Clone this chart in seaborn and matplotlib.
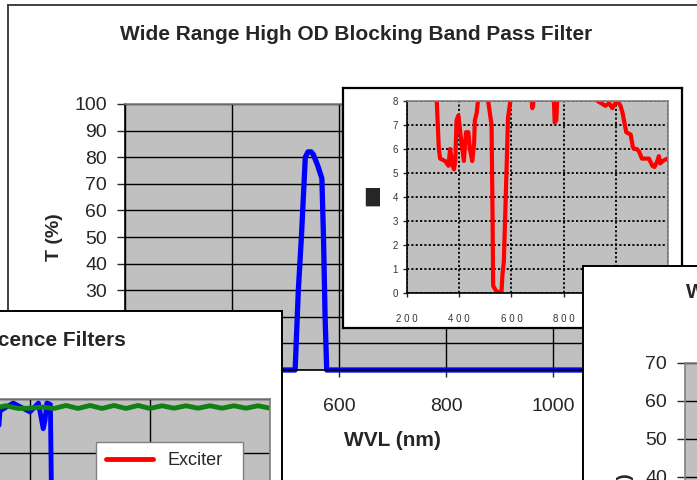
import matplotlib
matplotlib.use("Agg")
import matplotlib.pyplot as plt
import seaborn as sns

W, H = 697, 480

# main chart: band pass transmission (%)
main_wvl = [200, 300, 400, 500, 518, 521, 524, 530, 537, 542, 548, 552, 560, 568,
            571, 574, 577, 600, 700, 800, 900, 1000, 1100, 1200]
main_t = [0, 0, 0, 0, 0, 15, 30, 51, 80, 82, 82, 81, 77, 72,
          50, 20, 0, 0, 0, 0, 0, 0, 0, 0]

# inset: blocking optical density
od_wvl = [305, 314, 318, 322, 327, 346, 359, 365, 375, 380, 385, 390, 397, 406,
          418, 426, 435, 441, 450, 457, 460, 467, 472, 480, 500, 511, 524, 528,
          530, 543, 562, 566, 571, 581, 587, 596, 620, 670, 675, 680, 683, 688,
          740, 762, 766, 772, 776, 790, 920, 930, 945, 960, 975, 987, 998, 1006,
          1018, 1026, 1040, 1057, 1065, 1070, 1080, 1089, 1100, 1127, 1140, 1148,
          1159, 1165, 1170, 1180, 1197]
od_val = [9.5, 8.0, 7.0, 6.0, 5.6, 5.5, 5.3, 6.0, 5.3, 5.15, 5.5, 7.2, 7.4, 6.5,
          5.5, 6.7, 6.7, 6.0, 5.5, 6.2, 7.2, 7.5, 8.0, 9.0, 9.0, 8.0, 7.0, 3.0,
          0.3, 0.05, 0.05, 0.8, 1.3, 5.0, 7.3, 8.0, 9.0, 9.0, 8.5, 7.7, 7.8, 8.5,
          9.0, 8.2, 7.1, 7.2, 8.2, 9.0, 9.0, 8.0, 7.9, 7.8, 7.9, 7.7, 7.9, 8.0,
          7.8, 7.5, 6.7, 6.6, 6.1, 6.0, 6.0, 5.9, 5.6, 5.6, 5.3, 5.25,
          5.5, 5.7, 5.4, 5.5, 5.6]

# fluorescence set (%)
exc_wvl = [300, 400, 420, 425, 455, 460, 700]
exc_t = [0, 0, 0, 88, 88, 0, 0]
dic_wvl = [440, 460, 475, 486, 500, 507, 511, 512.5, 514, 517, 518, 520, 600, 700]
dic_t = [0, 0, 95.6, 98.5, 95.2, 98.5, 89, 92, 98.5, 98, 60, 0, 0, 0]
emi_wvl = [460, 470, 480, 490, 500, 510, 520, 530, 540, 550, 560, 570, 580, 590,
           600, 610, 620, 630, 640, 650, 660, 670, 680, 690, 700]
emi_t = [97.4, 96.6, 97.5, 96.5, 96.6, 97.0, 96.5, 97.6, 96.5, 97.6, 96.5, 97.6,
         96.5, 97.6, 96.5, 97.5, 96.6, 97.5, 96.6, 97.5, 96.6, 97.5, 96.6, 97.5,
         96.6]

GREY = "#C0C0C0"
EDGE = "#808080"


def px(l, t, r, b):
    return [l / W, 1 - b / H, (r - l) / W, (b - t) / H]


def frame(rect, z, color="black", lw=1.4):
    a = fig.add_axes(px(*rect), zorder=z)
    a.set_facecolor("white")
    a.set_xticks([])
    a.set_yticks([])
    for s in a.spines.values():
        s.set_color(color)
        s.set_linewidth(lw)
    return a


def plot_area(rect, z):
    a = fig.add_axes(px(*rect), zorder=z)
    a.set_facecolor(GREY)
    a.set_axisbelow(True)
    for s in a.spines.values():
        s.set_color(EDGE)
        s.set_linewidth(1.2)
    return a


def ftext(a, x, y, s, **kw):
    # text placed in figure pixels but drawn with its panel
    a.text(x / W, 1 - y / H, s, transform=fig.transFigure, **kw)


sns.set_style("white")
plt.rcParams["font.family"] = ["Liberation Sans", "DejaVu Sans"]

fig = plt.figure(figsize=(W / 100, H / 100), dpi=100)

# ---- main chart
fr = frame((8, 5, 706, 495), 0, color="#404040")
ftext(fr, 356, 34, "Wide Range High OD Blocking Band Pass Filter",
      ha="center", va="center", fontsize=15, fontweight="bold")
ax = plot_area((125, 104, 660, 370), 1)
sns.lineplot(x=main_wvl, y=main_t, ax=ax, color="#0000FF", lw=3.8, clip_on=False)
ax.set_xlim(200, 1200)
ax.set_ylim(0, 100)
ax.set_xticks(range(200, 1201, 200))
ax.set_yticks(range(0, 101, 10))
ax.grid(True, color="black", lw=1)
ax.spines["left"].set_color("black")
ax.spines["bottom"].set_color("black")
ax.tick_params(axis="y", direction="out", length=6, width=1, pad=7, labelsize=14, left=True)
ax.tick_params(axis="x", direction="out", length=5, width=1, pad=15, labelsize=14, bottom=True)
ax.set_xlabel("WVL (nm)", fontsize=15, fontweight="bold")
ax.set_ylabel("T (%)", fontsize=14, fontweight="bold")
ax.xaxis.set_label_coords(0.5, (370 - 440) / 266)
ax.xaxis.label.set_va("center")
ax.yaxis.set_label_coords((54 - 125) / 535, 0.5)
ax.yaxis.label.set_va("center")

# ---- inset (optical density)
frame((343, 88, 682, 328), 2, lw=1.6)
ins = plot_area((407, 101, 668, 293), 3)
sns.lineplot(x=od_wvl, y=od_val, ax=ins, color="#FF0000", lw=3)
ins.set_xlim(200, 1200)
ins.set_ylim(0, 8)
ins.set_xticks(range(200, 1201, 200))
ins.set_xticklabels([" ".join(str(v)) for v in range(200, 1201, 200)])
ins.set_yticks(range(0, 9))
ins.grid(True, color="black", lw=1.3, ls=(0, (1.2, 1.2)))
ins.spines["left"].set_color("black")
ins.spines["bottom"].set_color("black")
ins.tick_params(axis="both", direction="out", length=3, width=1, labelsize=7,
                labelcolor="#333333", left=True, bottom=True)
ins.tick_params(axis="x", pad=12)
ins.set_ylabel("\u2588", family="DejaVu Sans", fontsize=13, rotation=0)
ins.yaxis.set_label_coords((372 - 407) / 261, 0.5)
ins.yaxis.label.set_va("center")
ins.yaxis.label.set_ha("center")

# ---- fluorescence filters panel
fb = frame((-20, 311, 282, 500), 4)
ftext(fb, 126, 340, "Fluorescence Filters", ha="right", va="center",
      fontsize=15, fontweight="bold")
fl = plot_area((-210, 399, 270, 669), 5)
sns.lineplot(x=exc_wvl, y=exc_t, ax=fl, color="#FF0000", lw=3.5, label="Exciter")
sns.lineplot(x=dic_wvl, y=dic_t, ax=fl, color="#0000FF", lw=3.5, label="Dichroic")
sns.lineplot(x=emi_wvl, y=emi_t, ax=fl, color="#138013", lw=3.5, label="Emitter")
fl.set_xlim(300, 700)
fl.set_ylim(0, 100)
fl.set_xticks(range(300, 701, 100))
fl.set_yticks(range(0, 101, 20))
fl.grid(True, color="black", lw=1)
fl.legend(loc="upper left", bbox_to_anchor=(96 / W, 1 - 442 / H),
          bbox_transform=fig.transFigure, fontsize=13, frameon=True, fancybox=False,
          edgecolor=EDGE, facecolor="white", framealpha=1, handlelength=2.6,
          borderpad=0.55, labelspacing=0.9, borderaxespad=0)

# ---- right panel
fr2 = frame((583, 266, 760, 500), 6)
ftext(fr2, 686, 293, "Wide Band Pass Filter", ha="left", va="center",
      fontsize=15, fontweight="bold")
ftext(fr2, 626, 497, "T (%)", rotation=90, ha="center", va="center",
      fontsize=14, fontweight="bold")
rp = plot_area((685, 363, 900, 629), 7)
rp.set_xlim(400, 800)
rp.set_ylim(0, 70)
rp.set_yticks(range(0, 71, 10))
rp.set_xticks([])
rp.grid(True, axis="y", color="black", lw=1)
rp.tick_params(axis="y", direction="out", length=6, width=1, pad=7, labelsize=14, left=True)

fig.savefig("out.png", dpi=100)
